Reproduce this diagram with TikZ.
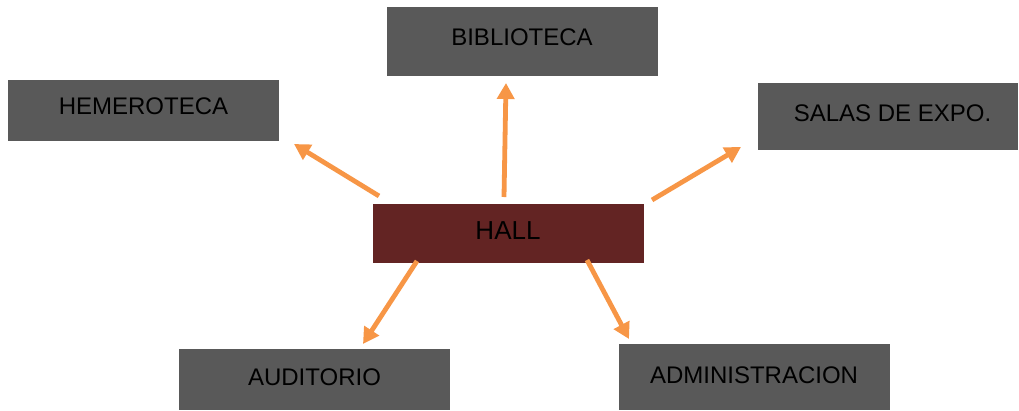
\documentclass[tikz,border=0pt]{standalone}
\usepackage{fontspec}
\setmainfont{Liberation Sans}
\usetikzlibrary{arrows.meta}
\definecolor{boxgray}{HTML}{595959}
\definecolor{hallred}{HTML}{632423}
\definecolor{arrorange}{HTML}{F79646}
\begin{document}
\begin{tikzpicture}[x=1pt,y=-1pt,
  box/.style={draw=none,fill=boxgray,inner sep=0pt,outer sep=0pt},
  hallbox/.style={draw=none,fill=hallred,inner sep=0pt,outer sep=0pt},
  txt/.style={inner sep=0pt,font=\fontsize{24}{28}\selectfont,text=black},
  conn/.style={draw=arrorange,line width=4.8pt,-{Triangle[length=16pt,width=17pt]}}]
\useasboundingbox (0,0) rectangle (1019,410);
% boxes
\node[box,minimum width=271pt,minimum height=69pt] (bib) at (522.5,41.5) {};
\node[box,minimum width=271pt,minimum height=61pt] (hem) at (143.5,110.5) {};
\node[box,minimum width=260pt,minimum height=67pt] (sal) at (888,116.5) {};
\node[hallbox,minimum width=271pt,minimum height=59pt] (hall) at (508.5,233.5) {};
\node[box,minimum width=271pt,minimum height=61pt] (aud) at (314.5,379.5) {};
\node[box,minimum width=271pt,minimum height=66pt] (adm) at (754.5,377) {};
% texts
\node[txt] (bibt) at (522,37.5) {BIBLIOTECA};
\node[txt] (hemt) at (143.5,106.5) {HEMEROTECA};
\node[txt] (salt) at (892.5,113) {SALAS DE EXPO.};
\node[txt,font=\fontsize{26}{30}\selectfont] (hallt) at (508,231) {HALL};
\node[txt] (audt) at (314.5,377.5) {AUDITORIO};
\node[txt] (admt) at (754,375) {ADMINISTRACION};
% arrow endpoints
\coordinate (h1) at (379,196);
\coordinate (e1) at (294,144);
\coordinate (h2) at (504,197);
\coordinate (e2) at (506,83);
\coordinate (h3) at (652,200);
\coordinate (e3) at (741,147);
\coordinate (h4) at (417,261);
\coordinate (e4) at (363,344);
\coordinate (h5) at (587,260);
\coordinate (e5) at (629,339);
\draw[conn] (h1) -- (e1);
\draw[conn] (h2) -- (e2);
\draw[conn] (h3) -- (e3);
\draw[conn] (h4) -- (e4);
\draw[conn] (h5) -- (e5);
\end{tikzpicture}
\end{document}
